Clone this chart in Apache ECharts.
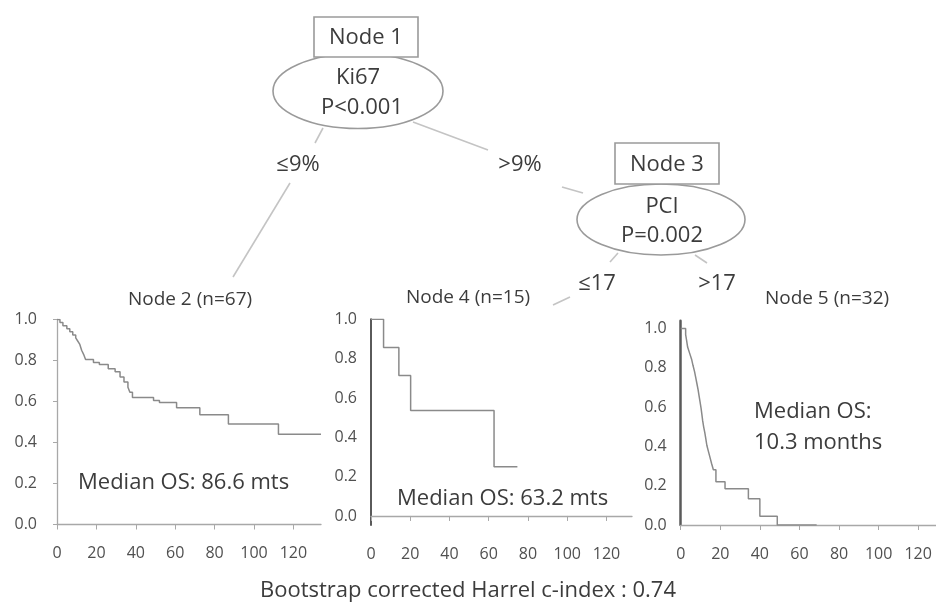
<!DOCTYPE html>
<html>
<head>
<meta charset="utf-8">
<script src="https://cdn.jsdelivr.net/npm/echarts@6/dist/echarts.min.js"></script>
<style>
  html, body { margin: 0; padding: 0; background: #fff; }
  #main { width: 936px; height: 606px; }
</style>
</head>
<body>
<div id="main"></div>
<script>
// tick labels shared by the three survival plots
var xTicks = [0, 20, 40, 60, 80, 100, 120];
var yTicks = [0, 0.2, 0.4, 0.6, 0.8, 1.0];

// Node 2 (Ki67 <= 9%)
var node2Months = [0, 1.5, 3, 5, 6.5, 8, 9.5, 10.5, 11.5, 12.5, 13.5, 14.5, 18.5, 21.5, 26, 29.5, 32, 34, 36, 37, 38.3, 49, 52, 60.7, 72.5, 87, 112.4, 134];
var node2Surv   = [1, 0.985, 0.97, 0.955, 0.94, 0.925, 0.91, 0.895, 0.88, 0.85, 0.83, 0.805, 0.79, 0.78, 0.76, 0.745, 0.72, 0.695, 0.67, 0.645, 0.62, 0.605, 0.595, 0.57, 0.535, 0.49, 0.44, 0.44];

// Node 4 (PCI <= 17)
var node4Months = [0, 6.4, 14.2, 20.2, 62.7, 74.6];
var node4Surv   = [1, 0.857, 0.714, 0.536, 0.25, 0.25];

// Node 5 (PCI > 17)
var node5Months = [0, 2.5, 3, 3.5, 4.5, 5.5, 6.2, 7, 7.6, 8.2, 8.8, 9.3, 9.8, 10.3, 10.7, 11.1, 11.6, 12.2, 12.7, 13.2, 14, 14.8, 15.6, 16.5, 17.8, 22.4, 34.2, 40, 48.8, 68.7];
var node5Surv   = [1, 0.969, 0.938, 0.906, 0.875, 0.844, 0.813, 0.781, 0.75, 0.719, 0.688, 0.656, 0.625, 0.594, 0.563, 0.531, 0.5, 0.469, 0.438, 0.406, 0.375, 0.344, 0.313, 0.281, 0.22, 0.184, 0.133, 0.044, 0, 0];

var FONT = 'Open Sans';
var TXT = '#3c3c3c';
var EDGE = '#c4c4c4';

function pairs(t, s) {
    return t.map(function (v, i) { return [v, s[i]]; });
}

function xAx(gi, max) {
    return {
        type: 'value', gridIndex: gi, min: 0, max: max,
        splitLine: { show: false },
        axisLine: { lineStyle: { color: '#a8a8a8', width: 1.3 } },
        axisTick: { show: true, length: 5, customValues: xTicks, lineStyle: { color: '#a8a8a8' } },
        axisLabel: { customValues: xTicks, margin: 21, fontSize: 16, fontFamily: FONT, color: '#505050' }
    };
}

function yAx(gi, min, max, lineColor, lineWidth, margin, ticks) {
    return {
        type: 'value', gridIndex: gi, min: min, max: max,
        splitLine: { show: false },
        axisLine: { show: true, lineStyle: { color: lineColor, width: lineWidth } },
        axisTick: { show: ticks, length: 4, customValues: yTicks, lineStyle: { color: '#a8a8a8' } },
        axisLabel: {
            customValues: yTicks, margin: margin, fontSize: 16, fontFamily: FONT, color: '#505050',
            formatter: function (v) { return v.toFixed(1); }
        }
    };
}

function km(idx, data) {
    return {
        type: 'line', xAxisIndex: idx, yAxisIndex: idx, step: 'end', symbol: 'none',
        data: data, lineStyle: { color: '#8a8a8a', width: 1.5 }
    };
}

function txt(x, y, s, size, align) {
    return {
        type: 'text', x: x, y: y, silent: true,
        style: { text: s, fontSize: size, fontFamily: FONT, fill: TXT, align: align || 'center', verticalAlign: 'middle' }
    };
}

function edge(x1, y1, x2, y2) {
    return { type: 'line', shape: { x1: x1, y1: y1, x2: x2, y2: y2 }, style: { stroke: EDGE, lineWidth: 1.6 } };
}

var chart = echarts.init(document.getElementById('main'));
chart.setOption({
    animation: false,
    grid: [
        { left: 57, top: 319.5, width: 264, height: 205 },
        { left: 371, top: 319.3, width: 261, height: 205.7 },
        { left: 680.7, top: 320.7, width: 256, height: 204.3 }
    ],
    xAxis: [xAx(0, 134), xAx(1, 133), xAx(2, 129)],
    yAxis: [
        yAx(0, 0, 1, '#a8a8a8', 1.3, 20, true),
        yAx(1, -0.046, 1, '#5a5a5a', 2, 14, false),
        yAx(2, 0, 1.04, '#5a5a5a', 2.5, 14, false)
    ],
    series: [
        km(0, pairs(node2Months, node2Surv)),
        km(1, pairs(node4Months, node4Surv)),
        km(2, pairs(node5Months, node5Surv))
    ],
    graphic: [
        // tree edges
        edge(323, 128, 315, 143),
        edge(290, 183, 233, 277),
        edge(413, 122, 488, 150),
        edge(562, 187, 583, 193),
        edge(618, 253, 610, 262),
        edge(570, 297, 553, 305),
        edge(695, 255, 707, 263),
        // node 1
        { type: 'ellipse', shape: { cx: 358, cy: 91, rx: 85, ry: 37.5 }, style: { fill: '#fff', stroke: '#9a9a9a', lineWidth: 1.6 } },
        { type: 'rect', shape: { x: 314, y: 17, width: 104, height: 40 }, style: { fill: '#fff', stroke: '#9a9a9a', lineWidth: 1.6 } },
        // node 3
        { type: 'ellipse', shape: { cx: 661, cy: 219.5, rx: 84, ry: 35.5 }, style: { fill: '#fff', stroke: '#9a9a9a', lineWidth: 1.6 } },
        { type: 'rect', shape: { x: 615, y: 143, width: 104, height: 41 }, style: { fill: '#fff', stroke: '#9a9a9a', lineWidth: 1.6 } },
        txt(366, 38, 'Node 1', 22),
        txt(358, 78, 'Ki67', 22),
        txt(362, 108, 'P<0.001', 22),
        txt(298, 165, '≤9%', 22),
        txt(520, 165, '>9%', 22),
        txt(667, 165, 'Node 3', 22),
        txt(662, 207, 'PCI', 22),
        txt(662, 236, 'P=0.002', 22),
        txt(597, 284, '≤17', 22),
        txt(717, 284, '>17', 22),
        txt(190, 300, 'Node 2 (n=67)', 19),
        txt(468, 298, 'Node 4 (n=15)', 19),
        txt(827, 299, 'Node 5 (n=32)', 19),
        txt(78, 483, 'Median OS: 86.6 mts', 22, 'left'),
        txt(397, 499, 'Median OS: 63.2 mts', 22, 'left'),
        txt(754, 412, 'Median OS:', 22, 'left'),
        txt(754, 443, '10.3 months', 22, 'left'),
        txt(468, 591, 'Bootstrap corrected Harrel c-index : 0.74', 22)
    ]
});
</script>
</body>
</html>
